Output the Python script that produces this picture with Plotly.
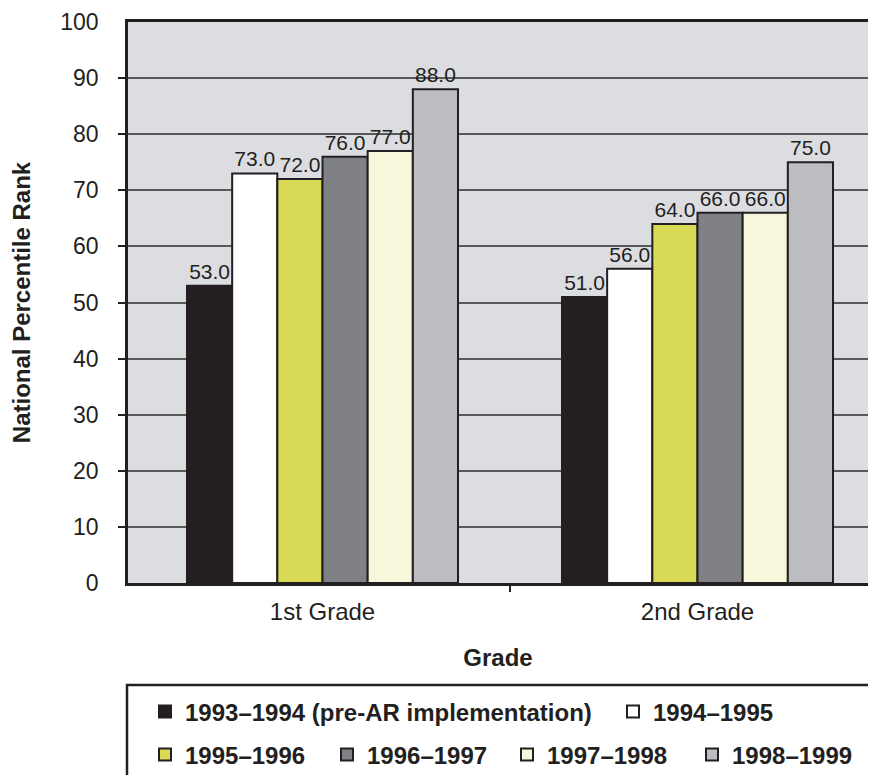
import plotly.graph_objects as go

categories = ["1st Grade", "2nd Grade"]
series_names = [
    "1993–1994 (pre-AR implementation)",
    "1994–1995",
    "1995–1996",
    "1996–1997",
    "1997–1998",
    "1998–1999",
]
values_1993 = [53.0, 51.0]
values_1994 = [73.0, 56.0]
values_1995 = [72.0, 64.0]
values_1996 = [76.0, 66.0]
values_1997 = [77.0, 66.0]
values_1998 = [88.0, 75.0]
series_values = [values_1993, values_1994, values_1995, values_1996, values_1997, values_1998]
colors = ["#231f20", "#ffffff", "#d9da56", "#808184", "#f7f7dc", "#bcbdc0"]
y_ticks = [0, 10, 20, 30, 40, 50, 60, 70, 80, 90, 100]

# page body has an 8px margin; figure sized so the page fits the window
W, H = 860, 767
ML, MR, MT, MB = 120, 0, 14, 192
PW, PH = W - ML - MR, H - MT - MB
DARK = "#231f20"
FONT = "Liberation Sans"


def px_x(p):
    return (p - ML) / PW


def px_y(p):
    return (H - MB - p) / PH


# legend entry origins / row centres (figure pixels)
legend_slots = [(137, 704), (605, 704), (137, 747), (319, 747), (499, 747), (684, 747)]

fig = go.Figure()
for i, (name, vals, col) in enumerate(zip(series_names, series_values, colors)):
    lg = "legend" if i == 0 else f"legend{i+1}"
    fig.add_trace(go.Bar(
        x=categories, y=vals, name=name,
        marker=dict(color=col, line=dict(color=DARK, width=2)),
        text=vals, texttemplate="%{y:.1f}", textposition="outside",
        textfont=dict(family=FONT, size=21, color=DARK),
        constraintext="none", cliponaxis=False,
        legend=lg,
    ))

# overlay axes: category boundary tick and inner y ticks
boundary_ticks = [i + 0.5 for i in range(len(categories) - 1)]
fig.add_trace(go.Scatter(x=[], y=[], xaxis="x2", yaxis="y2", showlegend=False, hoverinfo="skip"))

xr = [-0.5187, 1.4547]
layout = dict(
    width=W, height=H,
    margin=dict(l=ML, r=MR, t=MT, b=MB, autoexpand=False),
    paper_bgcolor="white", plot_bgcolor="#dcdde0",
    barmode="group", bargap=0.2773, bargroupgap=0,
    font=dict(family=FONT, color=DARK),
    xaxis=dict(
        type="category", range=xr,
        showline=True, linecolor=DARK, linewidth=2.5, mirror=True,
        ticks="", showgrid=False,
        tickfont=dict(family=FONT, size=24, color=DARK),
        ticklabelstandoff=5,
        title=dict(text="Grade", font=dict(family=FONT, size=24, color=DARK, weight="bold"), standoff=26),
    ),
    xaxis2=dict(
        overlaying="x", anchor="y2", side="bottom", range=xr,
        tickmode="array", tickvals=boundary_ticks, ticks="outside", ticklen=8,
        tickwidth=1.5, tickcolor=DARK, showticklabels=False,
        showgrid=False, zeroline=False, showline=False,
    ),
    yaxis=dict(
        range=[0, 100], tickmode="array", tickvals=y_ticks,
        showline=True, linecolor=DARK, linewidth=2.5, mirror=False,
        ticks="", showgrid=True, gridcolor="#58595b", gridwidth=1.5, zeroline=False,
        tickfont=dict(family=FONT, size=23, color=DARK),
        ticklabelstandoff=22, ticklabeloverflow="allow",
        title=dict(text="National Percentile Rank", font=dict(family=FONT, size=24, color=DARK, weight="bold"), standoff=31),
    ),
    yaxis2=dict(
        overlaying="y", anchor="x2", side="left", range=[0, 100],
        tickmode="array", tickvals=y_ticks[1:-1], ticks="outside", ticklen=9,
        tickwidth=1.5, tickcolor=DARK, showticklabels=False,
        showgrid=False, zeroline=False, showline=False,
    ),
    shapes=[dict(
        type="rect", xref="paper", yref="paper",
        x0=px_x(119), x1=px_x(W + 20), y0=px_y(677), y1=px_y(H + 20),
        line=dict(color=DARK, width=2.5), fillcolor="rgba(0,0,0,0)",
    )],
    showlegend=True,
)
for i, (lx, ly) in enumerate(legend_slots):
    key = "legend" if i == 0 else f"legend{i+1}"
    layout[key] = dict(
        x=px_x(lx), y=px_y(ly), xanchor="left", yanchor="middle",
        orientation="h", bgcolor="rgba(0,0,0,0)", borderwidth=0,
        font=dict(family=FONT, size=24, color=DARK, weight="bold"),
    )
fig.update_layout(**layout)
fig.write_html("out.html")
